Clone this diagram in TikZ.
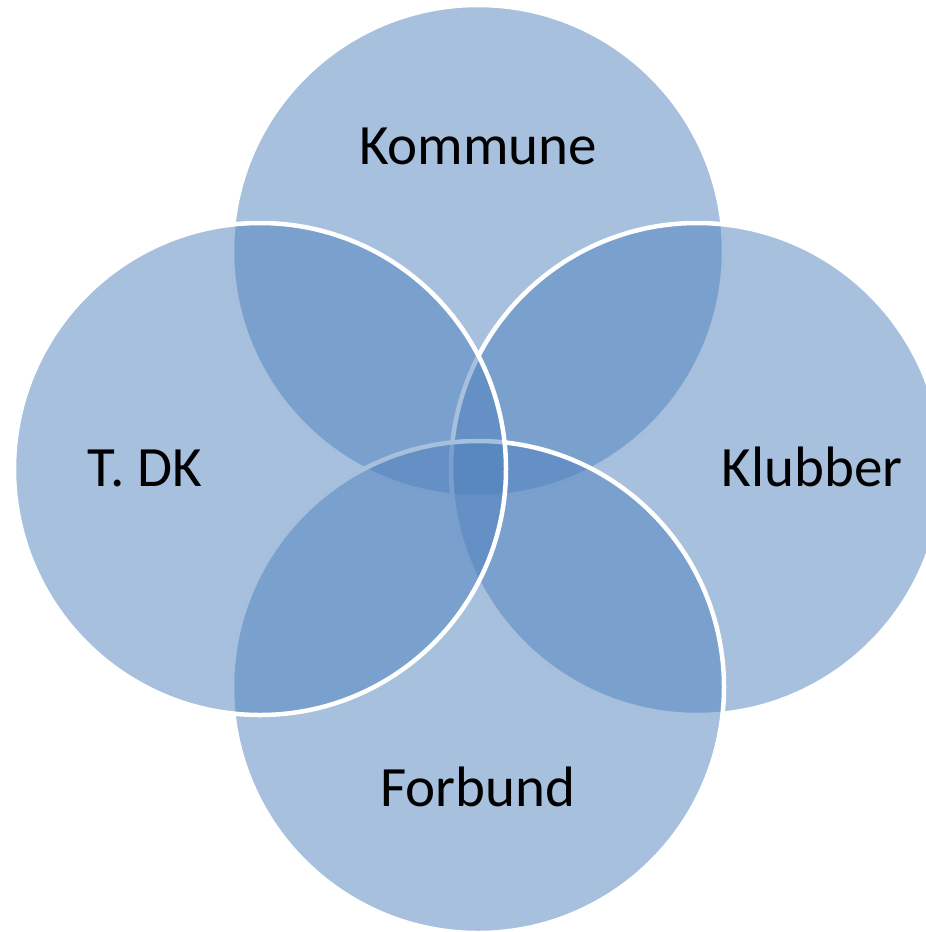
\documentclass[tikz,border=0pt]{standalone}
\usepackage{fontspec}
\setmainfont{Carlito}
\definecolor{accentblue}{RGB}{79,129,189}
\begin{document}
\begin{tikzpicture}[x=1pt,y=-1pt,
  venn/.style={circle, minimum size=492pt, inner sep=0pt, outer sep=0pt,
    fill=accentblue, fill opacity=0.5, draw=white, draw opacity=1, line width=4.5pt},
  lbl/.style={font=\fontsize{57}{68}\selectfont, text=black, anchor=base, inner sep=0pt}]
\useasboundingbox (0,0) rectangle (926,932);
\node[venn] (kommune) at (478,251) {};
\node[venn] (klubber) at (697,469) {};
\node[venn] (forbund) at (478,687) {};
\node[venn] (tdk) at (260,469) {};
\node[lbl] (tkommune) at (478,164) {Kommune};
\node[lbl] (ttdk) at (145,486) {T. DK};
\node[lbl] (tklubber) at (812,486) {Klubber};
\node[lbl] (tforbund) at (478,806) {Forbund};
\end{tikzpicture}
\end{document}
